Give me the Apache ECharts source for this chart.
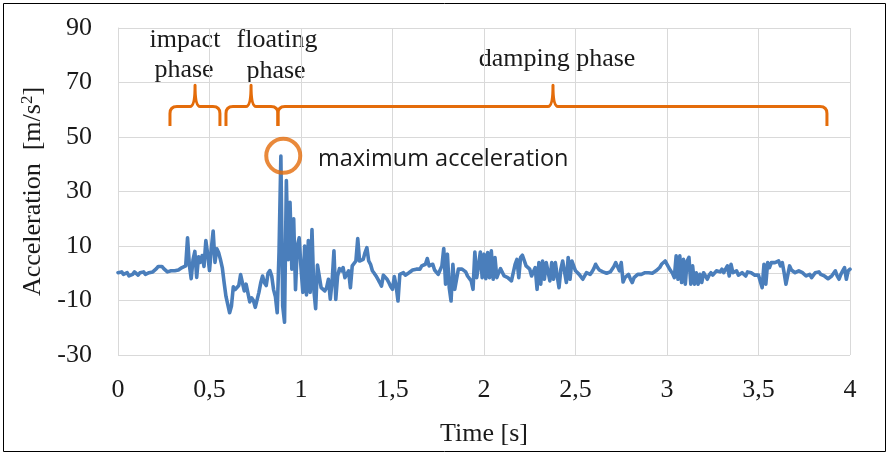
<!DOCTYPE html>
<html>
<head>
<meta charset="utf-8">
<script src="https://cdn.jsdelivr.net/npm/echarts@6/dist/echarts.min.js"></script>
<style>
  html, body { margin: 0; padding: 0; background: #fff; }
  #chart { width: 890px; height: 456px; }
</style>
</head>
<body>
<div id="chart"></div>
<script>
const SAMPLE_STEP = 0.01
const accel = [
  0.2, 0, 0.5, -0.4, -0.7, 0.2, -1, -1.6, -0.4, 0.5,
  0, -0.7, 0.2, 0, 0.5, -0.4, -0.7, 0.2, 0.9, 0.5,
  1.2, 1.7, 2.5, 2.1, 2.5, 1.7, 1.2, 0.5, 0, 0.9,
  0.2, 0.9, 1.5, 1.2, 1.7, 2.1, 2.1, 2.7, 13, 3,
  -2, 5, 8, -1.5, 6, 4, 6.5, 2.5, 12, 7,
  1, 9, 15.5, 4, 9, 7.5, 5, 2, -3.5, -8.5,
  -11.5, -14.5, -12, -5, -6, -6.5, -4.5, -0.5, -3.5, -6.5,
  -4, -3.5, -10.5, -9, -10, -12.5, -13, -7, -3.5, -1,
  -3.5, -4.5, 0, 1, -1, -6, -8.5, -14.5, 8, 43,
  -12, -18, 34, 5, 26, 1.5, 20, -6, 10, 13,
  2, -7, 10, -8, 12, -7, 16, -6, -13, 3,
  3, -5.3, -5.9, -6.5, -5.3, -2.2, -9.5, -3, 8.2, -9.6,
  -1, 1.7, 0.9, 2.1, -1.6, -2, 0.9, -5.3, 2.7, 3.3,
  4.5, 12.7, 4.5, 5.1, 5.1, 7.6, 9.4, 4.5, 3.3, 0.9,
  0, -1, -2.2, -3.4, -4.7, -0.7, -1.2, -2.2, -3.4, -4.9,
  -5.9, -1.2, -4.7, -10.2, -0.4, 0.2, 0.2, -0.7, -0.7, 0.2,
  0.9, 1.2, 1.2, 1.5, 1.5, 1.5, 2.7, 2.1, 3.3, 5.4,
  2.7, 2.1, 3.3, 1.2, 0.5, -0.4, -0.7, 2.7, 9.1, -4,
  7, -5.3, -10.2, 3.3, -5.9, -2.2, 1.5, 1.2, 1.5, 0.9,
  0.5, -1, -1.6, -2.8, -5.9, 7.8, -1.6, 2.7, 7.8, -1.6,
  7, -2, 7.6, -1.6, 8.2, -2.2, 5.8, -1.6, 0.2, 1.7,
  2.1, -1, -1.2, -1.6, -2.2, -2.8, 0.2, 3.3, 5.1, -1.6,
  5.8, 6.6, 7, 2.7, 3.3, 1.5, -1, -1.6, 2.1, -5.9,
  3.9, -4, 4.5, -2.2, 3.9, 4.5, -2.8, 3.9, -2.2, 3.9,
  -1, -5.3, 1.5, 4.5, 5.1, -3.4, 5.8, -2.2, 4.5, 2.7,
  0.9, 0.2, -0.4, -1, -2.2, -2.8, 0.2, 0.9, -0.4, 0.5,
  1.7, 3.3, 2.1, 1.2, 0.9, 0.5, 0.2, 0, -0.4, 0.5,
  1.2, 2.5, 3.9, 4.5, 0.9, 3.9, -3.2, -1.6, -1, -0.4,
  -2.2, -3.4, -1.6, -1, -0.4, 0.2, -0.4, -1, 0.2, 0.9,
  0.2, -0.4, 0, 0.5, 0.9, 1.2, 2.1, 3.3, 3.9, 4.5,
  3.3, 2.1, 0.9, 0, -1.6, 6.4, -2.2, 6.4, -3.4, 5.1,
  -4, 4.5, 5.8, -4, 2.7, -4, 0.2, -4, -0.4, -3.4,
  0.2, -1, -2.2, -0.7, 0.2, -0.7, -0.4, 0.9, 0.2, 0.5,
  1.5, 0.2, 1.5, 2.7, -1, 3.3, 0.2, 0.2, 0.9, -0.7,
  -0.4, 0.2, -0.4, -1, 0.5, 0.9, 0.2, -0.4, -0.7, -1,
  -0.7, -0.4, -5.3, 3.3, -4, 3.9, 2.1, 3.9, 4.5, 3.9,
  4.2, 4.5, 2.7, 3.9, 0.2, -4, -4.7, 2.7, 1.2, 0.5,
  0.2, 0.5, 0.9, 0.5, 0.2, -0.4, -1, -0.7, -0.4, -1.6,
  -0.7, 0.2, 0.9, 0.5, -0.4, -0.7, -1, -1.6, -2, -2.2,
  -1, -0.4, 0.9, -1, -2.2, -0.4, 0.9, 2.1, -2.2, 0.9,
  1.5
]

// phase braces (time in s) and their heights (m/s^2)
const braceStart = [0.284, 0.590, 0.874]
const braceTip = [0.421, 0.727, 2.377]
const braceEnd = [0.557, 0.874, 3.874]
const braceFoot = 54
const braceBar = 61.2
const braceTop = 69

const peakMark = [[0.903, 43.1]]

const BLUE = "#4A7EBB"
const ORANGE = "#E46C0A"
const GRID = "#D9D9D9"
const TEXT = "#1a1a1a"
const SERIF = "Liberation Serif"
const SANS = "Open Sans"

const lineData = accel.map((v, i) => [+(i * SAMPLE_STEP).toFixed(2), v])
const braceData = braceStart.map((s, i) => [s, braceTip[i], braceEnd[i]])

const chart = echarts.init(document.getElementById("chart"))

function renderBrace(params, api) {
    const r = 7, tipW = 5
    const [x0, yb] = api.coord([api.value(0), braceFoot])
    const [xm, yt] = api.coord([api.value(1), braceTop])
    const x1 = api.coord([api.value(2), braceFoot])[0]
    const ym = api.coord([0, braceBar])[1]
    const d = `M${x0},${yb} L${x0},${ym + r} Q${x0},${ym} ${x0 + r},${ym} ` +
        `L${xm - tipW},${ym} Q${xm},${ym} ${xm},${yt} Q${xm},${ym} ${xm + tipW},${ym} ` +
        `L${x1 - r},${ym} Q${x1},${ym} ${x1},${ym + r} L${x1},${yb}`
    return {
        type: "path",
        shape: { pathData: d },
        style: { fill: "none", stroke: ORANGE, lineWidth: 3, lineJoin: "round" }
    }
}

function label(text, x, y, size, family, align) {
    return {
        type: "text", x: x, y: y, silent: true,
        style: {
            text: text, fontSize: size, fontFamily: family, fill: TEXT,
            align: align || "center", verticalAlign: "middle"
        }
    }
}

const option = {
    animation: false,
    grid: { left: 118, right: 40, top: 28, bottom: 101 },
    xAxis: {
        type: "value",
        min: 0,
        max: 4,
        interval: 0.5,
        axisLine: { show: true, lineStyle: { color: GRID, width: 1 } },
        axisTick: { show: false },
        splitLine: { show: true, lineStyle: { color: GRID, width: 1 } },
        axisLabel: {
            margin: 22,
            fontFamily: SERIF,
            fontSize: 26,
            color: TEXT,
            formatter: v => String(v).replace(".", ",")
        },
        name: "Time [s]",
        nameLocation: "middle",
        nameGap: 66,
        nameTextStyle: { fontFamily: SERIF, fontSize: 26, color: TEXT }
    },
    yAxis: {
        type: "value",
        min: -30,
        max: 90,
        interval: 20,
        axisLine: { show: true, lineStyle: { color: GRID, width: 1 } },
        axisTick: { show: false },
        splitLine: { show: true, lineStyle: { color: GRID, width: 1 } },
        axisLabel: { margin: 26, fontFamily: SERIF, fontSize: 26, color: TEXT },
        name: "{t|Acceleration  [m/s}{s|2}{t|]}",
        nameLocation: "middle",
        nameRotate: 90,
        nameGap: 70,
        nameTextStyle: {
            rich: {
                t: { fontFamily: SERIF, fontSize: 26, color: TEXT },
                s: { fontFamily: SERIF, fontSize: 17, color: TEXT, padding: [0, 0, 12, 0] }
            }
        }
    },
    series: [
        {
            type: "line",
            data: lineData,
            showSymbol: false,
            lineStyle: { color: BLUE, width: 3.6, cap: "round", join: "round" },
            z: 3
        },
        {
            type: "custom",
            data: braceData,
            renderItem: renderBrace,
            z: 4
        },
        {
            type: "scatter",
            data: peakMark,
            symbol: "circle",
            symbolSize: 34,
            itemStyle: { color: "rgba(0,0,0,0)", borderColor: ORANGE, borderWidth: 4 },
            z: 5
        }
    ],
    graphic: [
        {
            type: "rect", silent: true,
            shape: { x: 3.5, y: 3.5, width: 882, height: 448 },
            style: { fill: "none", stroke: "#000", lineWidth: 1 }
        },
        label("impact", 185, 40.5, 26, SERIF),
        label("phase", 184, 70.5, 26, SERIF),
        label("floating", 277, 40, 26, SERIF),
        label("phase", 276, 71, 26, SERIF),
        label("damping phase", 557, 59, 26, SERIF),
        label("maximum acceleration", 318, 159.5, 23.5, SANS, "left")
    ]
}

chart.setOption(option)
</script>
</body>
</html>
